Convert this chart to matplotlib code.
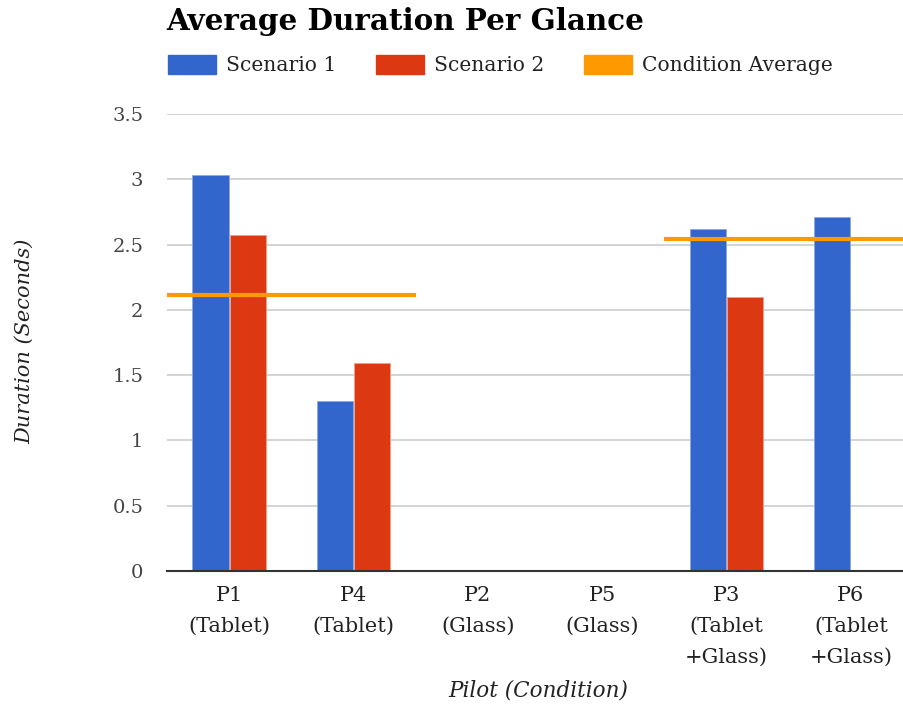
import matplotlib.pyplot as plt
import matplotlib.patches as mpatches
import numpy as np

# data
pilots = ["P1\n(Tablet)", "P4\n(Tablet)", "P2\n(Glass)", "P5\n(Glass)",
          "P3\n(Tablet\n+Glass)", "P6\n(Tablet\n+Glass)"]
scenario1 = [3.03, 1.30, np.nan, np.nan, 2.62, 2.71]
scenario2 = [2.57, 1.59, np.nan, np.nan, 2.10, np.nan]
condition_avg = [2.11, 2.11, np.nan, np.nan, 2.54, 2.54]
yticks = [0, 0.5, 1, 1.5, 2, 2.5, 3, 3.5]
ytick_labels = ["0", "0.5", "1", "1.5", "2", "2.5", "3", "3.5"]

BLUE = "#3366CC"
RED = "#DC3912"
ORANGE = "#FF9900"
TEXT = "#222222"

plt.rcParams['font.family'] = ['DejaVu Serif']

fig = plt.figure(figsize=(9.04, 7.06), dpi=100)
ax = fig.add_axes([167 / 904, 1 - 571 / 706, 746 / 904, 457 / 706])

x = np.arange(len(pilots))
w = 0.29
ax.bar(x - w / 2 - 0.005, scenario1, w, color=BLUE, edgecolor="#8fa9e0",
       linewidth=0.6, zorder=3, label="Scenario 1")
ax.bar(x + w / 2 + 0.005, scenario2, w, color=RED, edgecolor="#f0a08a",
       linewidth=0.6, zorder=3, label="Scenario 2")

# stepped condition average line (one flat segment per category)
for i, v in enumerate(condition_avg):
    if not np.isnan(v):
        ax.hlines(v, i - 0.5, i + 0.5, color=ORANGE, linewidth=3, zorder=4)

ax.set_xlim(-0.5, len(pilots) - 0.5)
ax.set_ylim(0, 3.5)
ax.set_yticks(yticks)
ax.set_yticklabels(ytick_labels, fontsize=14, color="#444444")
ax.set_xticks(x)
ax.set_xticklabels(pilots, fontsize=15, color=TEXT, linespacing=1.8)
ax.tick_params(axis='both', length=0)
ax.tick_params(axis='y', pad=17)
ax.tick_params(axis='x', pad=11)

ax.grid(axis='y', color="#cccccc", linewidth=1.2, zorder=0)
for s in ["top", "right", "left"]:
    ax.spines[s].set_visible(False)
ax.spines["bottom"].set_color("#333333")
ax.spines["bottom"].set_linewidth(1.5)
ax.spines["bottom"].set_zorder(5)

fig.text(538 / 904, 1 - 690 / 706, "Pilot (Condition)", style="italic",
         fontsize=15.5, color=TEXT, ha="center", va="center")
fig.text(25 / 904, 1 - 341 / 706, "Duration (Seconds)", style="italic",
         fontsize=15, color=TEXT, ha="center", va="center", rotation=90)

fig.text(166 / 904, 1 - 22 / 706, "Average Duration Per Glance",
         fontsize=21.2, fontweight="bold", color="#000000", ha="left", va="center")

handles = [mpatches.Patch(color=BLUE, label="Scenario 1"),
           mpatches.Patch(color=RED, label="Scenario 2"),
           mpatches.Patch(color=ORANGE, label="Condition Average")]
leg = fig.legend(handles=handles, loc="center left", ncol=3,
                 bbox_to_anchor=(160 / 904, 1 - 65 / 706), frameon=False,
                 fontsize=14.6, handlelength=2.36, handleheight=1.1,
                 handletextpad=0.5, columnspacing=1.95, borderaxespad=0)
for t in leg.get_texts():
    t.set_color(TEXT)

fig.savefig("out.png", dpi=100)
